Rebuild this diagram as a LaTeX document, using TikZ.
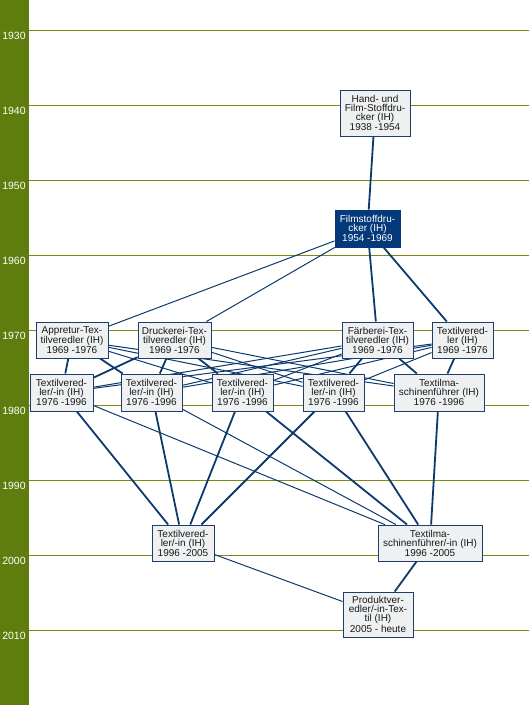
\documentclass[tikz,border=0pt]{standalone}
\usepackage{fontspec}
\setmainfont{Liberation Sans}
\usetikzlibrary{backgrounds}
\definecolor{bargreen}{HTML}{5F7D0E}
\definecolor{yline}{HTML}{7D8A14}
\definecolor{navy}{HTML}{0D3A6E}
\definecolor{boxfill}{HTML}{EEF0F2}
\definecolor{boxdraw}{HTML}{1E3D6B}
\definecolor{darkbox}{HTML}{053A7A}
\begin{document}
\begin{tikzpicture}[x=1pt,y=-1pt,
  box/.style={draw=boxdraw, line width=0.9pt, fill=boxfill, inner sep=0pt, align=center,
    font=\fontsize{10}{9}\selectfont, text=black!90},
  dbox/.style={box, fill=darkbox, draw=darkbox, text=white},
  yearline/.style={draw=yline, line width=0.9pt},
  yearlbl/.style={text=white, font=\fontsize{10.5}{11}\selectfont, inner sep=0pt},
  thick edge/.style={draw=navy, line width=1.8pt},
  thin edge/.style={draw=navy, line width=1pt}]
\useasboundingbox (0,0) rectangle (529,705);

% nodes
\node[box, minimum width=70, minimum height=46] (hand) at (375,113) {Hand- und\\Film-Stoffdru-\\cker (IH)\\1938 -1954};
\node[dbox, minimum width=65, minimum height=37] (film) at (367.5,228.5) {Filmstoffdru-\\cker (IH)\\1954 -1969};
\node[box, minimum width=72, minimum height=36] (appr) at (72,340) {Appretur-Tex-\\tilveredler (IH)\\1969 -1976};
\node[box, minimum width=73, minimum height=36] (druck) at (174.5,340) {Druckerei-Tex-\\tilveredler (IH)\\1969 -1976};
\node[box, minimum width=71, minimum height=36] (faerb) at (377.5,340) {Färberei-Tex-\\tilveredler (IH)\\1969 -1976};
\node[box, minimum width=61, minimum height=36] (tv) at (462.5,340) {Textilvered-\\ler (IH)\\1969 -1976};
\node[box, minimum width=63, minimum height=37] (ra) at (61.5,392.5) {Textilvered-\\ler/-in (IH)\\1976 -1996};
\node[box, minimum width=61, minimum height=37] (rb) at (151.5,392.5) {Textilvered-\\ler/-in (IH)\\1976 -1996};
\node[box, minimum width=61, minimum height=37] (rc) at (242.5,392.5) {Textilvered-\\ler/-in (IH)\\1976 -1996};
\node[box, minimum width=61, minimum height=37] (rd) at (333.5,392.5) {Textilvered-\\ler/-in (IH)\\1976 -1996};
\node[box, minimum width=90, minimum height=37] (re) at (439,392.5) {Textilma-\\schinenführer (IH)\\1976 -1996};
\node[box, minimum width=62, minimum height=36] (ba) at (183,543) {Textilvered-\\ler/-in (IH)\\1996 -2005};
\node[box, minimum width=104, minimum height=36] (bb) at (430,543) {Textilma-\\schinenführer/-in (IH)\\1996 -2005};
\node[box, minimum width=70, minimum height=45] (prod) at (378,614.5) {Produktver-\\edler/-in-Tex-\\til (IH)\\2005 - heute};

\begin{scope}[on background layer]
  \fill[bargreen] (0,0) rectangle (29,705);
  \foreach \yy/\yr in {30/1930,105/1940,180/1950,255/1960,330/1970,405/1980,480/1990,555/2000,630/2010}{
    \draw[yearline] (29,\yy) -- (529,\yy);
    \node[yearlbl] (y\yr) at (14,{\yy+6}) {\yr};
  }
  % top
  \draw[thick edge] (hand) -- (film);
  \draw[thin edge] (film) -- (appr);
  \draw[thin edge] (film) -- (druck);
  \draw[thick edge] (film) -- (faerb);
  \draw[thick edge] (film) -- (tv);
  % 1969 -> 1976
  \draw[thick edge] (appr) -- (ra);
  \draw[thick edge] (appr) -- (rb);
  \draw[thin edge] (appr) -- (rc);
  \draw[thin edge] (appr) -- (rd);
  \draw[thin edge] (appr) -- (re);
  \draw[thick edge] (druck) -- (ra);
  \draw[thick edge] (druck) -- (rb);
  \draw[thick edge] (druck) -- (rc);
  \draw[thin edge] (druck) -- (rd);
  \draw[thin edge] (druck) -- (re);
  \draw[thin edge] (faerb) -- (ra);
  \draw[thin edge] (faerb) -- (rb);
  \draw[thin edge] (faerb) -- (rc);
  \draw[thick edge] (faerb) -- (rd);
  \draw[thick edge] (faerb) -- (re);
  \draw[thin edge] (tv) -- (ra);
  \draw[thin edge] (tv) -- (rb);
  \draw[thin edge] (tv) -- (rc);
  \draw[thin edge] (tv) -- (rd);
  \draw[thick edge] (tv) -- (re);
  % 1976 -> 1996
  \draw[thick edge] (ra) -- (ba);
  \draw[thin edge] (ra) -- (bb);
  \draw[thick edge] (rb) -- (ba);
  \draw[thin edge] (rb) -- (bb);
  \draw[thick edge] (rc) -- (ba);
  \draw[thick edge] (rc) -- (bb);
  \draw[thick edge] (rd) -- (ba);
  \draw[thick edge] (rd) -- (bb);
  \draw[thick edge] (re) -- (bb);
  % 1996 -> 2005
  \draw[thin edge] (ba) -- (prod);
  \draw[thick edge] (bb) -- (prod);
\end{scope}
\end{tikzpicture}
\end{document}
